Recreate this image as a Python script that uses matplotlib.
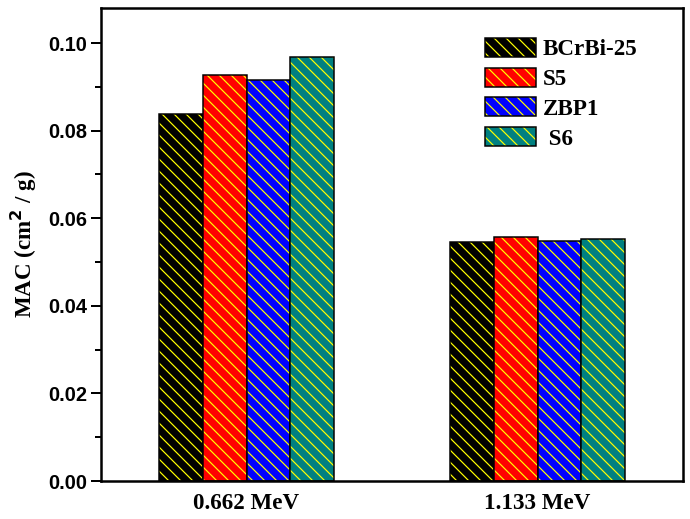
import numpy as np
import matplotlib.pyplot as plt
from matplotlib.ticker import MultipleLocator
from matplotlib.legend_handler import HandlerTuple

# data
energies = ["0.662 MeV", "1.133 MeV"]
samples = ["BCrBi-25", "S5", "ZBP1", " S6"]
mac_bcrbi25 = [0.0838, 0.0545]
mac_s5 = [0.0926, 0.0557]
mac_zbp1 = [0.0915, 0.0549]
mac_s6 = [0.0967, 0.0552]
colors = ["#000000", "#ff0000", "#0000ff", "#008080"]

values = [mac_bcrbi25, mac_s5, mac_zbp1, mac_s6]

plt.rcParams["hatch.linewidth"] = 1.2
serif_bold = dict(family="Liberation Serif", weight="bold")

fig = plt.figure(figsize=(690 / 72, 519 / 72), dpi=72)
ax = fig.add_axes([0.1464, 0.0732, 0.8435, 0.9114])

x = np.arange(1, len(energies) + 1)
width = 0.15
handles = []
for i, (vals, col) in enumerate(zip(values, colors)):
    pos = x + (i - 1.5) * width
    b1 = ax.bar(pos, vals, width, color=col, edgecolor="none", linewidth=0)
    b2 = ax.bar(pos, vals, width, facecolor="none", edgecolor="#ffff00",
                hatch="\\\\", linewidth=0)
    b3 = ax.bar(pos, vals, width, facecolor="none", edgecolor="black",
                linewidth=1.5)
    handles.append((b1[0], b2[0], b3[0]))

ax.set_xlim(0.5, 2.5)
ax.set_ylim(0, 0.108)
ax.set_xticks(x)
ax.set_xticklabels(energies, fontdict=dict(size=23, **serif_bold))
ax.tick_params(axis="x", length=0, pad=12)

ax.yaxis.set_major_locator(MultipleLocator(0.02))
ax.yaxis.set_minor_locator(MultipleLocator(0.01))
ax.tick_params(axis="y", which="major", length=10, width=2, direction="out")
ax.tick_params(axis="y", which="minor", length=6, width=2, direction="out")
for lab in ax.get_yticklabels():
    lab.set_family("Liberation Sans")
    lab.set_weight("bold")
    lab.set_fontsize(20)

ax.set_ylabel(r"MAC (cm$^{\mathbf{2}}$ / g)", fontsize=23, labelpad=10,
              **serif_bold)

for sp in ax.spines.values():
    sp.set_linewidth(2.5)

leg = ax.legend(handles, samples, loc="upper left", frameon=False,
                bbox_to_anchor=(0.625, 0.981),
                handler_map={tuple: HandlerTuple(ndivide=1, pad=0)},
                handlelength=2.2, handleheight=0.9, labelspacing=0.32,
                handletextpad=0.3,
                prop=dict(family="Liberation Serif", weight="bold", size=23))

fig.savefig("out.png", dpi=72)
